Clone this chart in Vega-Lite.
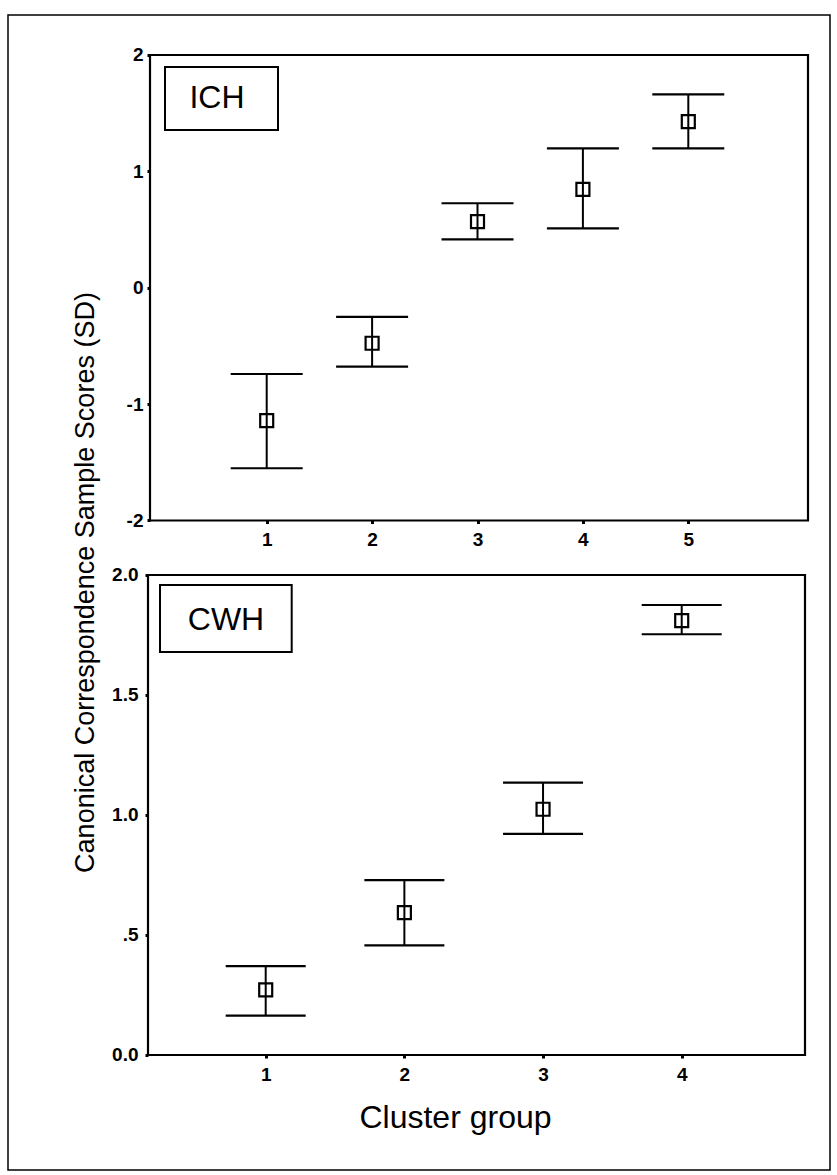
{
  "$schema": "https://vega.github.io/schema/vega-lite/v6.json",
  "width": 822,
  "height": 1155,
  "padding": {"left": 8, "top": 15, "right": 7, "bottom": 5},
  "autosize": {"type": "pad"},
  "background": "white",
  "config": {
    "font": "Liberation Sans",
    "view": {"stroke": "black", "strokeWidth": 1.5, "fill": "white"},
    "axis": {
      "grid": false,
      "domain": false,
      "labelFont": "Liberation Sans",
      "labelFontSize": 19,
      "labelFontWeight": "bold",
      "labelColor": "black",
      "tickColor": "black",
      "tickSize": 3,
      "tickWidth": 3,
      "labelFlush": false,
      "labelOverlap": false,
      "titleFont": "Liberation Sans",
      "titleFontWeight": "normal",
      "titleColor": "black"
    }
  },
  "resolve": {
    "scale": {"x": "independent", "y": "independent"},
    "axis": {"x": "independent", "y": "independent"}
  },
  "layer": [
    {
      "data": {
        "values": [
          {"cluster": 1, "mean": -1.142, "lower": -1.551, "upper": -0.741},
          {"cluster": 2, "mean": -0.477, "lower": -0.678, "upper": -0.251},
          {"cluster": 3, "mean": 0.568, "lower": 0.416, "upper": 0.726},
          {"cluster": 4, "mean": 0.846, "lower": 0.511, "upper": 1.198},
          {"cluster": 5, "mean": 1.427, "lower": 1.198, "upper": 1.662}
        ]
      },
      "layer": [
        {
          "mark": {"type": "rule", "color": "black", "strokeWidth": 2, "opacity": 1},
          "encoding": {
            "x": {
              "field": "cluster",
              "type": "quantitative",
              "scale": {"domain": [-1.4545, 6.3444], "nice": false, "zero": false},
              "axis": {
                "orient": "bottom",
                "offset": -649.5,
                "values": [1, 2, 3, 4, 5],
                "format": "d",
                "title": null,
                "labelPadding": 7
              }
            },
            "y": {
              "field": "lower",
              "type": "quantitative",
              "scale": {"domain": [-7.5811, 2.3437], "nice": false, "zero": false},
              "axis": {
                "orient": "left",
                "offset": -142,
                "values": [-2, -1, 0, 1, 2],
                "labelExpr": "toString(datum.value)",
                "labelPadding": 4,
                "title": "Canonical Correspondence Sample Scores (SD)",
                "titleFontSize": 27,
                "titleX": -65,
                "titleY": 567,
                "titleAngle": -90,
                "titleBaseline": "middle",
                "titleAlign": "center"
              }
            },
            "y2": {"field": "upper"}
          }
        },
        {
          "mark": {"type": "tick", "orient": "horizontal", "size": 72, "thickness": 2.2, "color": "black", "opacity": 1},
          "encoding": {
            "x": {"field": "cluster", "type": "quantitative"},
            "y": {"field": "upper", "type": "quantitative"}
          }
        },
        {
          "mark": {"type": "tick", "orient": "horizontal", "size": 72, "thickness": 2.2, "color": "black", "opacity": 1},
          "encoding": {
            "x": {"field": "cluster", "type": "quantitative"},
            "y": {"field": "lower", "type": "quantitative"}
          }
        },
        {
          "mark": {"type": "point", "shape": "square", "size": 169, "filled": false, "stroke": "black", "strokeWidth": 2.2, "opacity": 1},
          "encoding": {
            "x": {"field": "cluster", "type": "quantitative"},
            "y": {"field": "mean", "type": "quantitative"}
          }
        },
        {
          "data": {"values": [{"label": "ICH"}]},
          "layer": [
            {
              "mark": {"type": "rect", "fill": "white", "fillOpacity": 0, "stroke": "black", "strokeWidth": 2.2},
              "encoding": {
                "x": {"datum": -0.1072, "type": "quantitative"},
                "x2": {"datum": 6.1357},
                "y": {"datum": -2, "type": "quantitative"},
                "y2": {"datum": 2}
              }
            },
            {
              "mark": {"type": "rect", "fill": "white", "stroke": "black", "strokeWidth": 2},
              "encoding": {
                "x": {"datum": 0.0351, "type": "quantitative"},
                "x2": {"datum": 1.1072},
                "y": {"datum": 1.3555, "type": "quantitative"},
                "y2": {"datum": 1.8969}
              }
            },
            {
              "mark": {"type": "text", "fontSize": 32, "align": "center", "baseline": "middle", "color": "black", "font": "Liberation Sans"},
              "encoding": {
                "x": {"datum": 0.5285, "type": "quantitative"},
                "y": {"datum": 1.6296, "type": "quantitative"},
                "text": {"field": "label"}
              }
            }
          ]
        }
      ]
    },
    {
      "data": {
        "values": [
          {"cluster": 1, "mean": 0.271, "lower": 0.164, "upper": 0.370},
          {"cluster": 2, "mean": 0.593, "lower": 0.457, "upper": 0.729},
          {"cluster": 3, "mean": 1.024, "lower": 0.921, "upper": 1.135},
          {"cluster": 4, "mean": 1.810, "lower": 1.753, "upper": 1.875}
        ]
      },
      "layer": [
        {
          "mark": {"type": "rule", "color": "black", "strokeWidth": 2, "opacity": 1},
          "encoding": {
            "x": {
              "field": "cluster",
              "type": "quantitative",
              "scale": {"domain": [-0.8584, 5.0694], "nice": false, "zero": false},
              "axis": {
                "orient": "bottom",
                "offset": -115,
                "values": [1, 2, 3, 4],
                "format": "d",
                "labelPadding": 7,
                "title": "Cluster group",
                "titleFontSize": 32,
                "titleX": 447,
                "titleY": 62,
                "titleAngle": 0,
                "titleBaseline": "middle",
                "titleAlign": "center"
              }
            },
            "y": {
              "field": "lower",
              "type": "quantitative",
              "scale": {"domain": [-0.4792, 4.3333], "nice": false, "zero": false},
              "axis": {
                "orient": "left",
                "offset": -140,
                "values": [0, 0.5, 1, 1.5, 2],
                "labelExpr": "datum.value == 0.5 ? '.5' : format(datum.value, '.1f')",
                "labelPadding": 7,
                "title": null
              }
            },
            "y2": {"field": "upper"}
          }
        },
        {
          "mark": {"type": "tick", "orient": "horizontal", "size": 80, "thickness": 2.2, "color": "black", "opacity": 1},
          "encoding": {
            "x": {"field": "cluster", "type": "quantitative"},
            "y": {"field": "upper", "type": "quantitative"}
          }
        },
        {
          "mark": {"type": "tick", "orient": "horizontal", "size": 80, "thickness": 2.2, "color": "black", "opacity": 1},
          "encoding": {
            "x": {"field": "cluster", "type": "quantitative"},
            "y": {"field": "lower", "type": "quantitative"}
          }
        },
        {
          "mark": {"type": "point", "shape": "square", "size": 169, "filled": false, "stroke": "black", "strokeWidth": 2.2, "opacity": 1},
          "encoding": {
            "x": {"field": "cluster", "type": "quantitative"},
            "y": {"field": "mean", "type": "quantitative"}
          }
        },
        {
          "data": {"values": [{"label": "CWH"}]},
          "layer": [
            {
              "mark": {"type": "rect", "fill": "white", "fillOpacity": 0, "stroke": "black", "strokeWidth": 2.2},
              "encoding": {
                "x": {"datum": 0.1512, "type": "quantitative"},
                "x2": {"datum": 4.8891},
                "y": {"datum": 0, "type": "quantitative"},
                "y2": {"datum": 2}
              }
            },
            {
              "mark": {"type": "rect", "fill": "white", "stroke": "black", "strokeWidth": 2},
              "encoding": {
                "x": {"datum": 0.2378, "type": "quantitative"},
                "x2": {"datum": 1.1875},
                "y": {"datum": 1.6792, "type": "quantitative"},
                "y2": {"datum": 1.9583}
              }
            },
            {
              "mark": {"type": "text", "fontSize": 32, "align": "center", "baseline": "middle", "color": "black", "font": "Liberation Sans"},
              "encoding": {
                "x": {"datum": 0.7137, "type": "quantitative"},
                "y": {"datum": 1.8125, "type": "quantitative"},
                "text": {"field": "label"}
              }
            }
          ]
        }
      ]
    }
  ]
}
